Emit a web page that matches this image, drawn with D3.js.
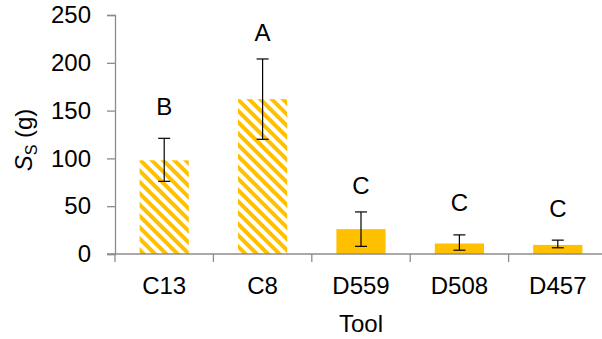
<!DOCTYPE html>
<html>
<head>
<meta charset="utf-8">
<script src="https://cdn.jsdelivr.net/npm/d3@7"></script>
<style>
  body { margin: 0; background: #fff; }
  text { font-family: "Liberation Sans", Arial, sans-serif; fill: #000; }
</style>
</head>
<body>
<svg id="here"></svg>
<script>
// chart data
const tools = ["C13", "C8", "D559", "D508", "D457"];
const means = [98, 162, 26, 11, 9.5];
const errHigh = [121, 204, 44, 20, 14.5];
const errLow = [76, 120, 8, 4, 6.5];
const groups = ["B", "A", "C", "C", "C"];
const groupAt = [145, 223, 63, 45.5, 39]; // letter baselines, in y units
const hatched = [true, true, false, false, false];
const yTicks = [0, 50, 100, 150, 200, 250];

const width = 602, height = 339;
const margin = {top: 15, right: -5, bottom: 85, left: 115};
const gold = "#FFC000";
const axisGrey = "#8c8c8c";

const svg = d3.select("#here")
  .attr("width", width)
  .attr("height", height);

// hatch pattern ("wide downward diagonal")
svg.append("defs").append("pattern")
  .attr("id", "hatch")
  .attr("patternUnits", "userSpaceOnUse")
  .attr("width", 8).attr("height", 8)
  .attr("patternTransform", "rotate(-45)")
  .call(p => p.append("rect").attr("width", 8).attr("height", 8).attr("fill", "#fff"))
  .call(p => p.append("rect").attr("width", 4).attr("height", 8).attr("fill", gold));

const x = d3.scaleBand()
  .domain(tools)
  .range([margin.left, width - margin.right])
  .paddingInner(0.5)
  .paddingOuter(0.25);

const y = d3.scaleLinear()
  .domain([0, 250])
  .range([height - margin.bottom, margin.top]);

// bars
svg.selectAll(".bar")
  .data(tools)
  .enter()
  .append("rect")
  .attr("x", d => x(d))
  .attr("width", x.bandwidth())
  .attr("y", (d, i) => y(means[i]))
  .attr("height", (d, i) => y(0) - y(means[i]))
  .attr("fill", (d, i) => hatched[i] ? "url(#hatch)" : gold);

// y axis
const yAxis = g => g
  .attr("transform", `translate(${margin.left},0)`)
  .call(d3.axisLeft(y).tickValues(yTicks).tickSize(8).tickPadding(16))
  .call(g => g.selectAll("path, line").attr("stroke", axisGrey).attr("stroke-width", 1.3))
  .call(g => g.selectAll("text").attr("font-size", 24).attr("fill", "#000")
    .style("font-family", "Liberation Sans, Arial, sans-serif"));
svg.append("g").call(yAxis);

// x axis: ticks sit between categories
const step = x.step();
const xAxis = g => g
  .attr("transform", `translate(0,${y(0)})`)
  .call(g => g.append("line")
    .attr("x1", margin.left - 8).attr("x2", width)
    .attr("stroke", axisGrey).attr("stroke-width", 1.3))
  .call(g => g.selectAll(".tk")
    .data(d3.range(tools.length + 1))
    .enter().append("line")
    .attr("x1", i => margin.left + i * step)
    .attr("x2", i => margin.left + i * step)
    .attr("y1", 0).attr("y2", 8)
    .attr("stroke", axisGrey).attr("stroke-width", 1.3))
  .call(g => g.selectAll(".lbl")
    .data(tools)
    .enter().append("text")
    .attr("x", d => x(d) + x.bandwidth() / 2)
    .attr("y", 40)
    .attr("text-anchor", "middle")
    .attr("font-size", 24)
    .text(d => d));
svg.append("g").call(xAxis);

// error bars
const eb = svg.selectAll(".err")
  .data(tools)
  .enter()
  .append("g")
  .attr("stroke", "#000")
  .attr("stroke-width", 1.2);
const cx = d => x(d) + x.bandwidth() / 2;
eb.append("line")
  .attr("x1", cx).attr("x2", cx)
  .attr("y1", (d, i) => y(errHigh[i]))
  .attr("y2", (d, i) => y(errLow[i]));
eb.append("line")
  .attr("x1", d => cx(d) - 6).attr("x2", d => cx(d) + 6)
  .attr("y1", (d, i) => y(errHigh[i]))
  .attr("y2", (d, i) => y(errHigh[i]));
eb.append("line")
  .attr("x1", d => cx(d) - 6).attr("x2", d => cx(d) + 6)
  .attr("y1", (d, i) => y(errLow[i]))
  .attr("y2", (d, i) => y(errLow[i]));

// group letters
svg.selectAll(".grp")
  .data(tools)
  .enter()
  .append("text")
  .attr("x", cx)
  .attr("y", (d, i) => y(groupAt[i]))
  .attr("text-anchor", "middle")
  .attr("font-size", 24)
  .text((d, i) => groups[i]);

// axis titles
svg.append("text")
  .attr("x", (margin.left + width - margin.right) / 2)
  .attr("y", 332)
  .attr("text-anchor", "middle")
  .attr("font-size", 24)
  .text("Tool");

const yl = svg.append("text")
  .attr("transform", "translate(32,140) rotate(-90)")
  .attr("text-anchor", "middle")
  .attr("font-size", 24);
yl.append("tspan").attr("font-style", "italic").text("S");
yl.append("tspan").attr("font-size", 16).attr("dy", 5).text("S");
yl.append("tspan").attr("dy", -5).text(" (g)");
</script>
</body>
</html>
